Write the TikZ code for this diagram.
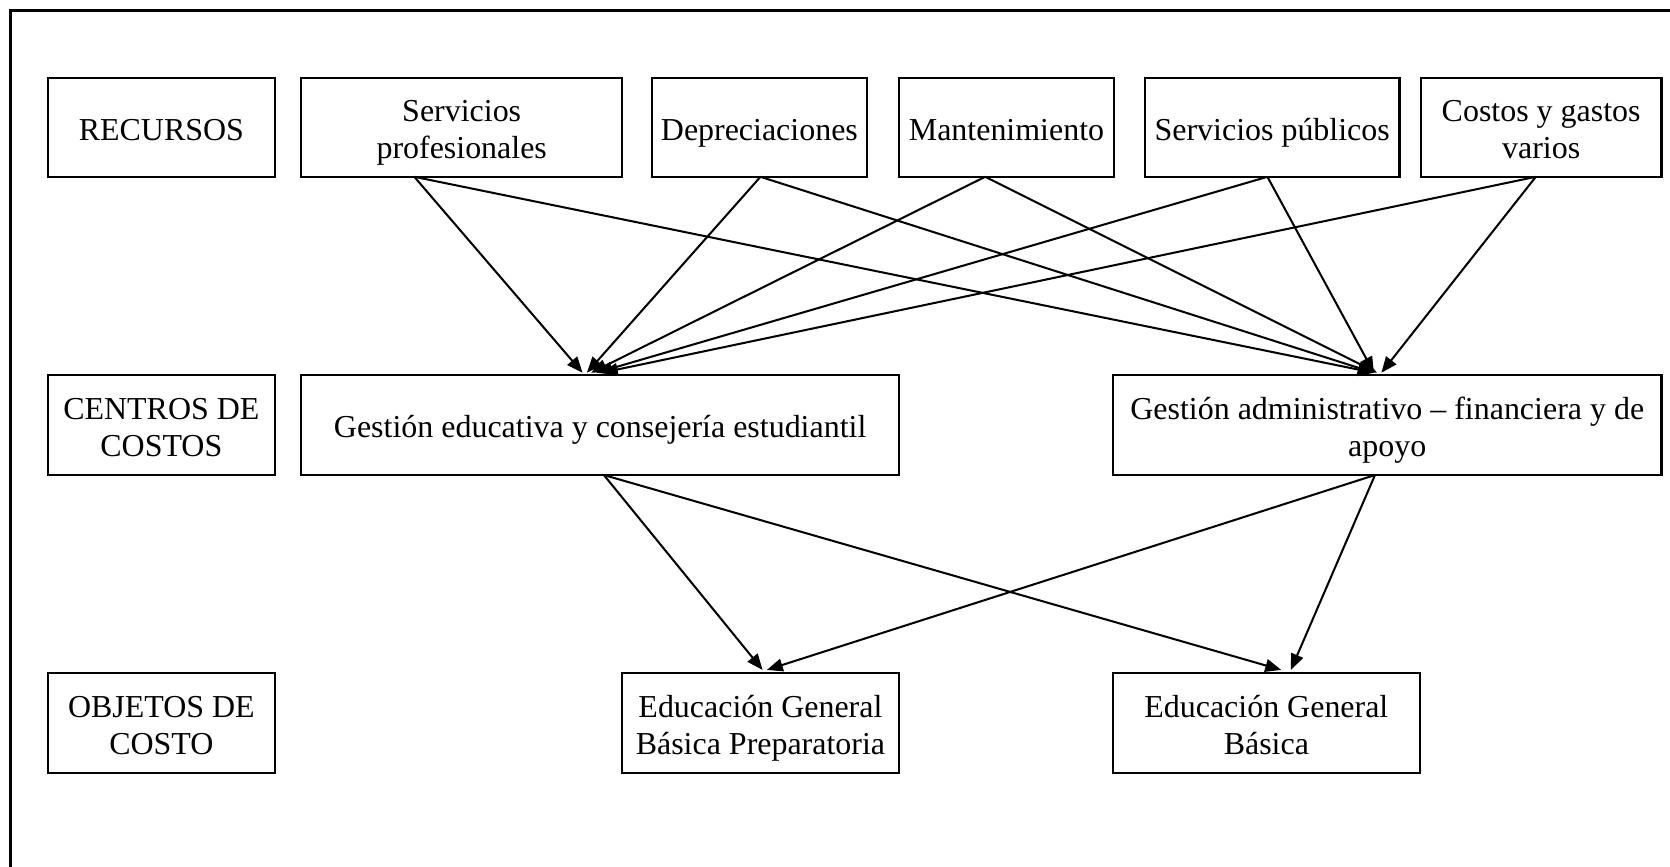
\documentclass[tikz,border=0pt]{standalone}
\usepackage{fontspec}
\setmainfont{Liberation Serif}
\usetikzlibrary{arrows.meta}
\newcommand\tstrut{\rule[-5.25pt]{0pt}{22.5pt}}
\begin{document}
\begin{tikzpicture}[x=0.5pt,y=-0.5pt,
  box/.style={draw, line width=1pt, inner sep=0pt, align=center, font=\fontsize{15}{17.5}\selectfont},
  rowone/.style={box, minimum height=46.5pt},
  rowtwo/.style={box, minimum height=47pt},
  arr/.style={line width=0.95pt, -{Triangle[length=7.5pt,width=6pt]}},
  frame/.style={line width=1.6pt}]
\useasboundingbox (0,0) rectangle (1568,814);
\draw[frame] (10,830) -- (10,10) -- (1580,10);
% row 1
\node[rowone, minimum width=106.5pt] (rec)  at (151.5,119.5) {\tstrut RECURSOS};
\node[rowone, minimum width=150.5pt] (sp)   at (433.5,119.5) {\tstrut Servicios\\\strut profesionales};
\node[rowone, minimum width=101pt]   (dep)  at (713,119.5)   {\tstrut Depreciaciones};
\node[rowone, minimum width=101pt]   (man)  at (945,119.5)   {\tstrut Mantenimiento};
\node[rowone, minimum width=119.5pt] (spub) at (1194.5,119.5) {\tstrut Servicios públicos};
\node[rowone, minimum width=113pt]   (cgv)  at (1447,119.5)  {\tstrut Costos y gastos\\\strut varios};
% row 2
\node[rowtwo, minimum width=106.5pt] (cc) at (151.5,399) {\tstrut CENTROS DE\\\strut COSTOS};
\node[rowtwo, minimum width=280.5pt] (ge) at (563.5,399) {\tstrut Gestión educativa y consejería estudiantil};
\node[rowtwo, minimum width=257.5pt] (ga) at (1302.5,399) {\tstrut Gestión administrativo -- financiera y de\\\strut apoyo};
% row 3
\node[rowtwo, minimum width=106.5pt] (oc)   at (151.5,679) {\tstrut OBJETOS DE\\\strut COSTO};
\node[rowtwo, minimum width=130pt]   (egbp) at (714,679)   {\tstrut Educación General\\\strut Básica Preparatoria};
\node[rowtwo, minimum width=144pt]   (egb)  at (1189,679)  {\tstrut Educación General\\\strut Básica};
% connector ends
\coordinate (spOut)   at (389,166);
\coordinate (depOut)  at (714,166);
\coordinate (manOut)  at (925,166);
\coordinate (spubOut) at (1190,166);
\coordinate (cgvOut)  at (1442,166);
\coordinate (geA) at (547,350);
\coordinate (geB) at (551,350);
\coordinate (geC) at (555,350);
\coordinate (geD) at (560,350);
\coordinate (geE) at (565,350);
\coordinate (gaA) at (1290,350);
\coordinate (gaB) at (1290,350);
\coordinate (gaC) at (1293,350);
\coordinate (gaD) at (1290,350);
\coordinate (gaE) at (1297,350);
\coordinate (geOut) at (567,446);
\coordinate (gaOut) at (1291,446);
\coordinate (egbpA) at (716,629);
\coordinate (egbpB) at (720,629);
\coordinate (egbA) at (1203,629);
\coordinate (egbB) at (1212,629);
% arrows row 1 -> row 2
\draw[arr] (spOut) -- (geA);
\draw[arr] (spOut) -- (gaA);
\draw[arr] (depOut) -- (geB);
\draw[arr] (depOut) -- (gaB);
\draw[arr] (manOut) -- (geC);
\draw[arr] (manOut) -- (gaC);
\draw[arr] (spubOut) -- (geD);
\draw[arr] (spubOut) -- (gaD);
\draw[arr] (cgvOut) -- (geE);
\draw[arr] (cgvOut) -- (gaE);
% arrows row 2 -> row 3
\draw[arr] (geOut) -- (egbpA);
\draw[arr] (geOut) -- (egbA);
\draw[arr] (gaOut) -- (egbpB);
\draw[arr] (gaOut) -- (egbB);
\end{tikzpicture}
\end{document}
